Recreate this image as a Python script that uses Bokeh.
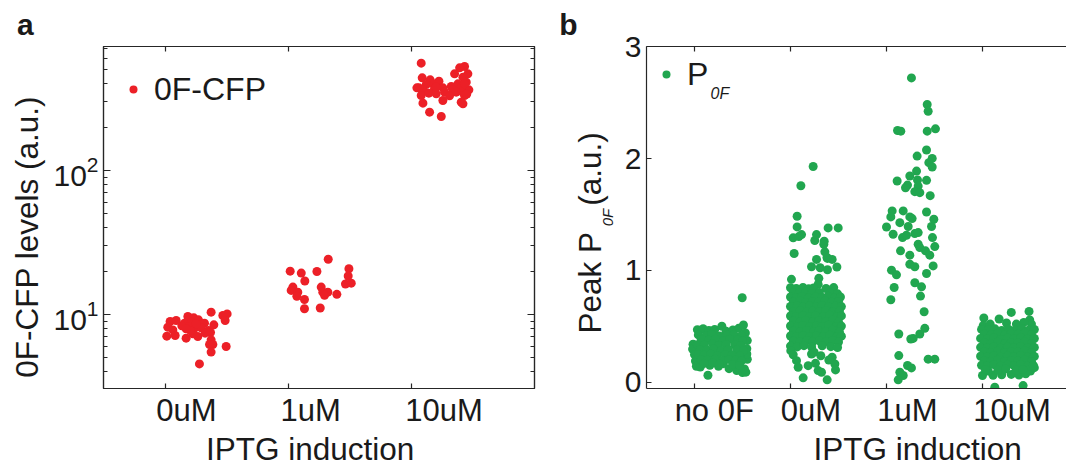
from bokeh.plotting import figure
from bokeh.models import Range1d, FixedTicker, LinearAxis, LogAxis, Label, Title, ColumnDataSource
from bokeh.layouts import row
from bokeh.embed import file_html
from bokeh.resources import INLINE

FONT = "Liberation Sans"
RED = "#EC2027"
GREEN = "#21A64F"
AXIS = "#262626"
TXT = "#1a1a1a"

# ---------------- data: panel a (jitter, 0F-CFP level) ----------------
a_categories = ["0uM", "1uM", "10uM"]
a_0uM = [(0.185, 9.68), (0.233, 9.48), (0.374, 10.38), (0.469, 9.84), (0.504, 10.1),
         (0.041, 8.94), (0.09, 9.08), (0.158, 8.71), (0.217, 8.85), (0.271, 9.18),
         (0.32, 8.71), (0.488, 9.08), (0.022, 8.17), (0.063, 7.82), (0.136, 8.34),
         (0.198, 8.26), (0.244, 8.08), (0.293, 8.08), (0.353, 7.74), (0.396, 8.48),
         (0.014, 7.07), (0.082, 7.15), (0.171, 6.85), (0.225, 7.34), (0.266, 7.03),
         (0.325, 7.42), (0.369, 7.5), (0.374, 6.67), (0.388, 6.19), (0.361, 6.19),
         (0.374, 5.48), (0.496, 6.0), (0.279, 4.54), (0.206, 7.74), (0.252, 8.61),
         (0.171, 7.95)]
a_1uM = [(0.016, 20.0), (0.106, 19.4), (0.233, 19.9), (0.325, 24.2), (0.493, 20.8),
         (0.135, 17.1), (0.487, 18.5), (0.465, 16.3), (0.512, 16.5), (0.038, 15.5),
         (0.024, 14.7), (0.078, 14.3), (0.07, 13.4), (0.132, 12.7), (0.268, 15.5),
         (0.281, 14.3), (0.322, 14.3), (0.295, 13.6), (0.395, 13.8), (0.132, 10.96),
         (0.26, 11.1)]
a_10uM = [(0.08, 556.6), (0.432, 527.6), (0.392, 516.4), (0.351, 469.2), (0.459, 469.2),
          (0.419, 444.8), (0.088, 440.1), (0.153, 426.3), (0.224, 417.3), (0.175, 399.9),
          (0.121, 395.6), (0.045, 375.1), (0.094, 363.3), (0.188, 369.1), (0.256, 375.1),
          (0.324, 383.1), (0.378, 399.9), (0.446, 410.7), (0.467, 363.3), (0.08, 331.8),
          (0.142, 344.4), (0.202, 340.7), (0.27, 349.9), (0.337, 363.3), (0.405, 355.6),
          (0.432, 331.8), (0.094, 293.5), (0.256, 306.3), (0.405, 298.2), (0.419, 290.4),
          (0.148, 254.2), (0.243, 237.1), (0.061, 375.1), (0.405, 379.1), (0.364, 349.9),
          (0.2, 380.0), (0.43, 400.0), (0.45, 340.0), (0.31, 330.0)]

# ---------------- data: panel b (jitter, peak P0F) ----------------
b_categories = ["no 0F", "0uM", "1uM", "10uM"]
b_no0F = [(0.497, 0.755),
          (0.03, 0.47), (0.09, 0.478), (0.15, 0.462), (0.21, 0.471), (0.285, 0.50), (0.33, 0.455),
          (0.40, 0.468), (0.46, 0.482), (0.51, 0.512),
          (-0.015, 0.34), (-0.02, 0.296), (0.0, 0.247), (0.01, 0.19), (0.02, 0.143),
          (0.14, 0.062), (0.06, 0.135), (0.25, 0.142), (0.36, 0.121), (0.44, 0.104), (0.50, 0.086),
          (0.535, 0.09), (0.52, 0.118), (0.16, 0.152), (0.30, 0.166),
          (0.55, 0.205), (0.545, 0.30), (0.55, 0.372), (0.53, 0.44), (0.545, 0.252),
          (0.04, 0.423), (0.12, 0.418), (0.18, 0.427), (0.26, 0.414), (0.34, 0.421), (0.41, 0.426), (0.49, 0.415),
          (0.07, 0.382), (0.15, 0.376), (0.22, 0.385), (0.30, 0.371), (0.37, 0.384), (0.45, 0.378), (0.50, 0.369),
          (0.03, 0.336), (0.10, 0.331), (0.19, 0.341), (0.25, 0.328), (0.33, 0.338), (0.42, 0.333), (0.48, 0.326),
          (0.06, 0.291), (0.13, 0.287), (0.20, 0.296), (0.28, 0.284), (0.35, 0.293), (0.44, 0.289), (0.51, 0.281),
          (0.04, 0.246), (0.10, 0.241), (0.17, 0.251), (0.24, 0.238), (0.32, 0.248), (0.39, 0.243), (0.47, 0.236),
          (0.07, 0.202), (0.14, 0.197), (0.22, 0.206), (0.29, 0.193), (0.36, 0.204), (0.43, 0.198), (0.49, 0.191),
          (0.10, 0.168), (0.19, 0.173), (0.26, 0.161), (0.40, 0.158), (0.47, 0.149)]
b_0uM = [(0.236, 1.929), (0.108, 1.757), (0.069, 1.484), (0.069, 1.389), (0.028, 1.291), (0.115, 1.320),
         (0.253, 1.267), (0.271, 1.320), (0.392, 1.380), (0.497, 1.380), (0.351, 1.261), (0.038, 1.151),
         (0.358, 1.166), (0.271, 1.098), (0.385, 1.107), (0.434, 1.098), (0.219, 1.033), (0.309, 1.024),
         (0.385, 1.006), (0.483, 1.030), (0.010, 0.920), (0.295, 0.929), (0.288, 0.875), (0.087, 1.302),
         (0.347, 1.234), (0.38, 1.115),
         (0.0, 0.845), (0.06, 0.838), (0.13, 0.848), (0.19, 0.835), (0.24, 0.842), (0.37, 0.838), (0.45, 0.846),
         (0.03, 0.80), (0.09, 0.795), (0.16, 0.806), (0.22, 0.792), (0.30, 0.803), (0.41, 0.797), (0.49, 0.79),
         (0.0, 0.762), (0.06, 0.755), (0.12, 0.766), (0.19, 0.752), (0.26, 0.763), (0.33, 0.757), (0.39, 0.768),
         (0.46, 0.754), (0.52, 0.762),
         (0.03, 0.718), (0.10, 0.724), (0.16, 0.713), (0.23, 0.722), (0.29, 0.716), (0.36, 0.727), (0.43, 0.714),
         (0.50, 0.721),
         (0.0, 0.677), (0.07, 0.684), (0.13, 0.672), (0.20, 0.681), (0.27, 0.675), (0.33, 0.686), (0.40, 0.673),
         (0.47, 0.682), (0.53, 0.676),
         (0.03, 0.633), (0.10, 0.64), (0.17, 0.628), (0.23, 0.637), (0.30, 0.631), (0.37, 0.642), (0.44, 0.629),
         (0.51, 0.636),
         (0.0, 0.592), (0.06, 0.585), (0.13, 0.596), (0.20, 0.583), (0.26, 0.594), (0.34, 0.587), (0.41, 0.598),
         (0.48, 0.584), (0.53, 0.593),
         (0.03, 0.548), (0.10, 0.541), (0.16, 0.552), (0.23, 0.539), (0.30, 0.55), (0.37, 0.543), (0.44, 0.554),
         (0.50, 0.54),
         (0.0, 0.503), (0.07, 0.496), (0.13, 0.507), (0.20, 0.494), (0.27, 0.505), (0.33, 0.498), (0.40, 0.509),
         (0.47, 0.495), (0.53, 0.502),
         (0.03, 0.458), (0.10, 0.451), (0.17, 0.462), (0.24, 0.449), (0.30, 0.46), (0.37, 0.453), (0.44, 0.464),
         (0.51, 0.45),
         (0.0, 0.413), (0.06, 0.406), (0.13, 0.417), (0.20, 0.404), (0.27, 0.415), (0.34, 0.408), (0.41, 0.419),
         (0.48, 0.405), (0.53, 0.412),
         (0.03, 0.368), (0.10, 0.361), (0.17, 0.372), (0.23, 0.359), (0.30, 0.37), (0.37, 0.363), (0.44, 0.374),
         (0.50, 0.36),
         (0.0, 0.323), (0.07, 0.316), (0.14, 0.327), (0.22, 0.314), (0.33, 0.325), (0.42, 0.318), (0.49, 0.31),
         (0.003, 0.282), (0.028, 0.246), (0.063, 0.193), (0.080, 0.134), (0.132, 0.039), (0.184, 0.148),
         (0.219, 0.252), (0.260, 0.169), (0.288, 0.104), (0.323, 0.089), (0.382, 0.021), (0.434, 0.223),
         (0.462, 0.163), (0.469, 0.110), (0.399, 0.199), (0.247, 0.267), (0.316, 0.237)]
b_1uM = [(0.26, 2.721), (0.424, 2.483), (0.434, 2.423), (0.115, 2.251), (0.149, 2.245), (0.424, 2.245),
         (0.51, 2.266), (0.417, 2.076), (0.319, 2.022), (0.476, 2.001), (0.441, 1.963), (0.476, 1.924),
         (0.313, 1.888), (0.243, 1.844), (0.111, 1.799), (0.323, 1.808), (0.417, 1.805), (0.219, 1.763),
         (0.198, 1.739), (0.33, 1.754), (0.295, 1.704), (0.347, 1.695), (0.455, 1.668), (0.059, 1.532),
         (0.174, 1.532), (0.417, 1.522), (0.243, 1.478), (0.045, 1.478), (0.139, 1.427), (0.493, 1.457),
         (0.267, 1.463), (0.0, 1.388), (0.226, 1.392), (0.469, 1.392), (0.069, 1.323), (0.167, 1.293),
         (0.208, 1.314), (0.295, 1.329), (0.33, 1.338), (0.479, 1.293), (0.33, 1.234), (0.347, 1.204),
         (0.503, 1.213), (0.146, 1.175), (0.406, 1.175), (0.451, 1.136), (0.243, 1.136), (0.243, 1.055),
         (0.295, 1.032), (0.486, 1.040), (0.052, 1.002), (0.104, 0.96), (0.417, 0.972), (0.295, 0.889),
         (0.365, 0.853), (0.08, 0.847), (0.045, 0.737), (0.354, 0.77), (0.392, 0.630), (0.128, 0.431),
         (0.399, 0.482), (0.347, 0.431), (0.278, 0.392), (0.253, 0.386), (0.128, 0.238), (0.434, 0.206),
         (0.503, 0.206), (0.219, 0.149), (0.26, 0.128), (0.139, 0.089), (0.174, 0.06), (0.122, 0.021)]
b_10uM = [(0.014, 0.574), (0.30, 0.624), (0.485, 0.633), (0.173, 0.565), (0.492, 0.556), (0.007, 0.505),
          (0.08, 0.52), (0.353, 0.52), (0.51, 0.52), (0.25, 0.53), (0.43, 0.535), (0.128, -0.045), (0.423, -0.03),
          (0.0, 0.06), (0.11, 0.062), (0.2, 0.066), (0.3, 0.07), (0.38, 0.064), (0.45, 0.075), (0.5, 0.1),
          (0.54, 0.13), (0.06, 0.1),
          (-0.01, 0.472), (0.06, 0.466), (0.13, 0.477), (0.20, 0.463), (0.27, 0.474), (0.34, 0.468), (0.41, 0.479),
          (0.48, 0.465), (0.54, 0.471),
          (0.02, 0.432), (0.09, 0.426), (0.16, 0.437), (0.23, 0.423), (0.30, 0.434), (0.37, 0.428), (0.44, 0.439),
          (0.51, 0.425),
          (-0.02, 0.392), (0.05, 0.386), (0.12, 0.397), (0.19, 0.383), (0.26, 0.394), (0.33, 0.388), (0.40, 0.399),
          (0.47, 0.385), (0.54, 0.391),
          (0.02, 0.352), (0.09, 0.346), (0.16, 0.357), (0.23, 0.343), (0.30, 0.354), (0.37, 0.348), (0.44, 0.359),
          (0.51, 0.345),
          (-0.02, 0.312), (0.05, 0.306), (0.12, 0.317), (0.19, 0.303), (0.26, 0.314), (0.33, 0.308), (0.40, 0.319),
          (0.47, 0.305), (0.54, 0.311),
          (0.02, 0.272), (0.09, 0.266), (0.16, 0.277), (0.23, 0.263), (0.30, 0.274), (0.37, 0.268), (0.44, 0.279),
          (0.51, 0.265),
          (-0.02, 0.232), (0.05, 0.226), (0.12, 0.237), (0.19, 0.223), (0.26, 0.234), (0.33, 0.228), (0.40, 0.239),
          (0.47, 0.225), (0.54, 0.231),
          (0.02, 0.192), (0.09, 0.186), (0.16, 0.197), (0.23, 0.183), (0.30, 0.194), (0.37, 0.188), (0.44, 0.199),
          (0.51, 0.185),
          (-0.01, 0.152), (0.05, 0.146), (0.12, 0.157), (0.19, 0.143), (0.26, 0.154), (0.33, 0.148), (0.40, 0.159),
          (0.47, 0.145), (0.53, 0.151),
          (0.03, 0.112), (0.16, 0.106), (0.24, 0.117), (0.35, 0.108), (0.42, 0.113)]

x_title = "IPTG induction"
ya_title = "0F-CFP levels (a.u.)"


def flatten(groups):
    xs, ys = [], []
    for pos, pts in enumerate(groups, start=1):
        for jit, val in pts:
            xs.append(pos + jit)
            ys.append(val)
    return ColumnDataSource(dict(x=xs, y=ys))


def style_axis(ax, tick_in, minor_in=0, labels=False):
    ax.axis_line_color = AXIS
    ax.axis_line_width = 1.2
    ax.major_tick_line_color = AXIS
    ax.major_tick_line_width = 1.2
    ax.major_tick_in = tick_in
    ax.major_tick_out = 0
    ax.minor_tick_in = minor_in
    ax.minor_tick_out = 0
    ax.minor_tick_line_color = AXIS if minor_in else None
    if labels:
        ax.major_label_text_font = FONT
        ax.major_label_text_font_size = "30px"
        ax.major_label_text_color = TXT
        ax.major_label_standoff = 5
    else:
        ax.major_label_text_font_size = "0px"
        ax.major_label_text_color = None
        ax.major_label_standoff = 0


def text_axis(ticks, texts, size, standoff):
    """An axis without line or ticks that only carries labels at the given data positions."""
    ax = LinearAxis(ticker=FixedTicker(ticks=ticks),
                    major_label_overrides={t: s for t, s in zip(ticks, texts)})
    ax.axis_line_color = None
    ax.major_tick_line_color = None
    ax.minor_tick_line_color = None
    ax.major_tick_in = 0
    ax.major_tick_out = 0
    ax.major_label_text_font = FONT
    ax.major_label_text_font_size = size
    ax.major_label_text_color = TXT
    ax.major_label_standoff = standoff
    return ax


def panel_title(p, text, offset, standoff):
    p.title.text = text
    p.title.align = "left"
    p.title.vertical_align = "bottom"
    p.title.offset = offset
    p.title.standoff = standoff
    p.title.text_font = FONT
    p.title.text_font_size = "30px"
    p.title.text_font_style = "bold"
    p.title.text_color = TXT


def style_legend(lg, loc):
    lg.location = loc
    lg.margin = 0
    lg.padding = 0
    lg.border_line_color = None
    lg.background_fill_alpha = 0
    lg.glyph_width = 20
    lg.glyph_height = 40
    lg.label_height = 40
    lg.label_standoff = 11
    lg.label_text_font = FONT
    lg.label_text_font_size = "32px"
    lg.label_text_color = TXT


TOP, FRAME_H, BOTTOM = 46, 342, 80

# ---------------- panel a ----------------
pa = figure(frame_width=431, frame_height=FRAME_H, min_border_left=99, min_border_right=22,
            min_border_top=TOP, min_border_bottom=BOTTOM, x_range=Range1d(0.5, 4.0),
            y_range=Range1d(3.063, 726.3), y_axis_type="log",
            output_backend="svg", toolbar_location=None)
pa.xgrid.visible = False
pa.ygrid.visible = False
pa.outline_line_color = AXIS
pa.outline_line_width = 1.2
pa.background_fill_color = "white"
pa.border_fill_color = "white"
panel_title(pa, "a", -86.5, 10.6)

log_major = [10, 100]
log_minor = [4, 5, 6, 7, 8, 9, 20, 30, 40, 50, 60, 70, 80, 90, 200, 300, 400, 500, 600, 700]
pa.yaxis.ticker = FixedTicker(ticks=log_major, minor_ticks=log_minor)
style_axis(pa.yaxis[0], 7, 4, labels=True)
pa.xaxis.ticker = FixedTicker(ticks=[1, 2, 3])
style_axis(pa.xaxis[0], 5)
top_a = LinearAxis(ticker=FixedTicker(ticks=[1, 2, 3]))
style_axis(top_a, 5)
pa.add_layout(top_a, "above")
right_a = LogAxis(ticker=FixedTicker(ticks=log_major, minor_ticks=log_minor))
style_axis(right_a, 7, 4)
pa.add_layout(right_a, "right")

# category names (centred on the clusters) and the x title
pa.add_layout(text_axis([1.174, 2.182, 3.266], a_categories, "31px", 4), "below")
pa.add_layout(text_axis([2.178], [x_title], "31.5px", 0), "below")
pa.add_layout(Title(text=ya_title, align="left", vertical_align="bottom", offset=10.7,
                    standoff=11.8, text_font=FONT, text_font_size="31.5px",
                    text_font_style="normal", text_color=TXT), "left")

pa.scatter("x", "y", source=flatten([a_0uM, a_1uM, a_10uM]), size=9,
           fill_color=RED, line_color=None, legend_label="0F-CFP")
style_legend(pa.legend[0], (20, 279))

# ---------------- panel b ----------------
pb = figure(frame_width=424, frame_height=FRAME_H, min_border_left=90, min_border_right=0,
            min_border_top=TOP, min_border_bottom=BOTTOM, x_range=Range1d(0.5, 0.5 + 424 / 96),
            y_range=Range1d(-0.0562, 3.002),
            output_backend="svg", toolbar_location=None)
pb.xgrid.visible = False
pb.ygrid.visible = False
pb.outline_line_color = None
pb.background_fill_color = "white"
pb.border_fill_color = "white"
panel_title(pb, "b", -87.3, 10.6)

pb.yaxis.ticker = FixedTicker(ticks=[0, 1, 2, 3])
style_axis(pb.yaxis[0], 5, labels=True)
# subscript of the y title sits in the axis-label slot, the rest in a title next to it
pb.yaxis.axis_label = "0F"
pb.yaxis.axis_label_text_font = FONT
pb.yaxis.axis_label_text_font_size = "15px"
pb.yaxis.axis_label_text_font_style = "italic"
pb.yaxis.axis_label_text_color = TXT
pb.yaxis.axis_label_standoff = 6
pb.xaxis.ticker = FixedTicker(ticks=[1, 2, 3, 4])
style_axis(pb.xaxis[0], 5)
top_b = LinearAxis(ticker=FixedTicker(ticks=[1, 2, 3, 4]))
style_axis(top_b, 5)
pb.add_layout(top_b, "above")

pb.add_layout(text_axis([1.206, 2.212, 3.217, 4.308], b_categories, "31px", 4), "below")
pb.add_layout(text_axis([3.324], [x_title], "31.5px", 0), "below")
pb.add_layout(Title(text="Peak P\u00a0\u00a0\u00a0(a.u.)", align="left", vertical_align="bottom",
                    offset=55, standoff=-24.8, text_font=FONT, text_font_size="31.5px",
                    text_font_style="normal", text_color=TXT), "left")

pb.scatter("x", "y", source=flatten([b_no0F, b_0uM, b_1uM, b_10uM]), size=9,
           fill_color=GREEN, line_color=None, legend_label="P")
style_legend(pb.legend[0], (10, 294))
pb.add_layout(Label(x=64, y=295.5, x_units="screen", y_units="screen", text="0F",
                    text_font=FONT, text_font_size="16px", text_font_style="italic",
                    text_color=TXT, text_baseline="alphabetic"))

layout = row(pa, pb)
open("out.html", "w").write(file_html(layout, INLINE))
